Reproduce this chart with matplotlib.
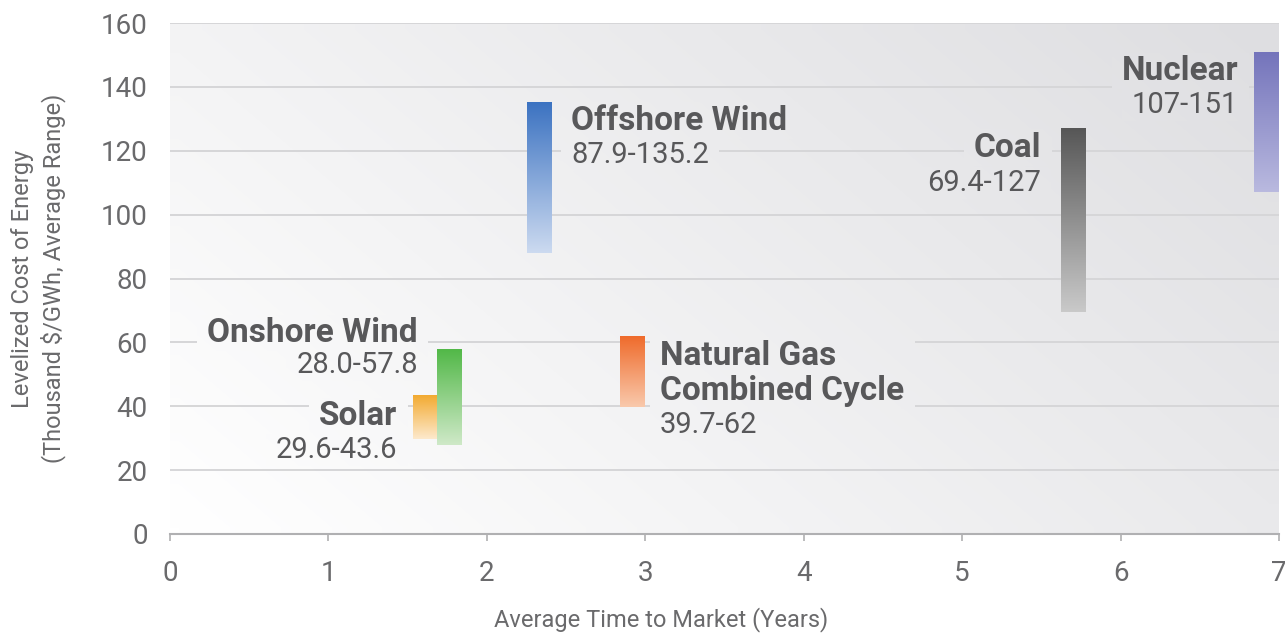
import numpy as np
import matplotlib.pyplot as plt
from matplotlib.colors import to_rgb

plt.rcParams['font.family'] = ['Roboto', 'DejaVu Sans']

# cost range per technology (thousand $/GWh) vs. average time to market (years)
techs = ["Solar", "Onshore Wind", "Offshore Wind", "Natural Gas\nCombined Cycle", "Coal", "Nuclear"]
years = [1.61, 1.76, 2.33, 2.92, 5.70, 6.92]
cost_low = [29.6, 28.0, 87.9, 39.7, 69.4, 107]
cost_high = [43.6, 57.8, 135.2, 62, 127, 151]
range_text = ["29.6-43.6", "28.0-57.8", "87.9-135.2", "39.7-62", "69.4-127", "107-151"]

x_ticks = [0, 1, 2, 3, 4, 5, 6, 7]
y_ticks = [0, 20, 40, 60, 80, 100, 120, 140, 160]

# styling
top_colors = ["#f2a92e", "#52b848", "#3b72c1", "#ef6a2a", "#575757", "#7474bb"]
bottom_colors = ["#fde9cc", "#cfe9c8", "#ccdaf0", "#f9c9ac", "#c9c9c9", "#b9b9df"]
# label anchor: (x, name baseline, value baseline, alignment)
label_pos = [
    (1.433, 34.1, 23.8, "right"),
    (1.566, 60.1, 50.4, "right"),
    (2.532, 126.5, 116.2, "left"),
    (3.093, 42.0, 31.6, "left"),
    (5.499, 118.0, 107.4, "right"),
    (6.742, 142.1, 131.8, "right"),
]
bar_w = 0.155
text_col = "#58585a"
tick_col = "#6a6a6c"


def bg_color(u, v):
    """Background shade at axes fraction (u, v): white bottom-left to grey top-right."""
    t = np.clip(0.65 * u + 0.35 * v, 0, 1)
    lo = np.array([1.0, 1.0, 1.0])
    hi = np.array([222, 222, 225]) / 255
    return lo + (hi - lo) * t


def bg_patch(ax, x0, x1, y0, y1, zorder):
    """Paint the backdrop gradient over a data-space rectangle."""
    uu, vv = np.meshgrid(np.linspace(x0 / 7, x1 / 7, 60), np.linspace(y1 / 160, y0 / 160, 40))
    img = bg_color(uu[..., None], vv[..., None])
    ax.imshow(img, extent=[x0, x1, y0, y1], aspect="auto", zorder=zorder, interpolation="bilinear")


fig = plt.figure(figsize=(12.85, 6.34), dpi=100)
ax = fig.add_axes([170 / 1285, 1 - 534 / 634, 1109 / 1285, 511 / 634])
ax.set_xlim(0, 7)
ax.set_ylim(0, 160)

bg_patch(ax, 0, 7, 0, 160, zorder=0)

for yv in y_ticks[1:]:
    ax.axhline(yv, color="#d6d6d8", lw=1.4, zorder=1)

# range bars with a vertical fade
for i in range(len(techs)):
    bar = ax.bar(years[i], cost_high[i] - cost_low[i], bottom=cost_low[i], width=bar_w,
                 color="none", zorder=2)[0]
    c_top = np.array(to_rgb(top_colors[i]))
    c_bot = np.array(to_rgb(bottom_colors[i]))
    s = np.linspace(0, 1, 100)[:, None, None]
    grad = c_top + (c_bot - c_top) * s
    im = ax.imshow(grad, extent=[years[i] - bar_w / 2, years[i] + bar_w / 2, cost_low[i], cost_high[i]],
                   aspect="auto", zorder=2, interpolation="bilinear")
    im.set_clip_path(bar)

labels = []
for i in range(len(techs)):
    lx, ny, vy, ha = label_pos[i]
    labels.append(ax.text(lx, ny, techs[i], ha=ha, va="baseline", fontsize=24, fontweight="bold",
                          color=text_col, linespacing=1.1, zorder=3))
    labels.append(ax.text(lx, vy, range_text[i], ha=ha, va="baseline", fontsize=21,
                          color=text_col, zorder=3))

ax.set_xticks(x_ticks)
ax.set_yticks(y_ticks)
ax.tick_params(axis="x", length=5, width=1.2, color="#b0b0b2", labelsize=20, labelcolor=tick_col, pad=14)
ax.tick_params(axis="y", length=0, labelsize=20, labelcolor=tick_col, pad=16)
for side in ["top", "right", "left"]:
    ax.spines[side].set_visible(False)
ax.spines["bottom"].set_color("#b0b0b2")
ax.spines["bottom"].set_linewidth(1.5)
ax.spines["bottom"].set_zorder(4)

ax.set_xlabel("Average Time to Market (Years)", fontsize=17, color=tick_col)
ax.xaxis.set_label_coords((661 - 170) / 1109, -0.143)
ax.set_ylabel("Levelized Cost of Energy\n(Thousand $/GWh, Average Range)", fontsize=17,
              color=tick_col, linespacing=1.3)
ax.yaxis.set_label_coords(-0.094, 0.5)

# knock the gridlines out behind each label
fig.canvas.draw()
renderer = fig.canvas.get_renderer()
inv = ax.transData.inverted()
for t in labels:
    bb = t.get_window_extent(renderer)
    (x0, y0), (x1, y1) = inv.transform([(bb.x0 - 10, bb.y0 - 2), (bb.x1 + 10, bb.y1 + 2)])
    bg_patch(ax, max(x0, 0), min(x1, 7), y0, y1, zorder=1.5)
ax.set_xlim(0, 7)
ax.set_ylim(0, 160)

fig.savefig("out.png", dpi=100, facecolor="white")
